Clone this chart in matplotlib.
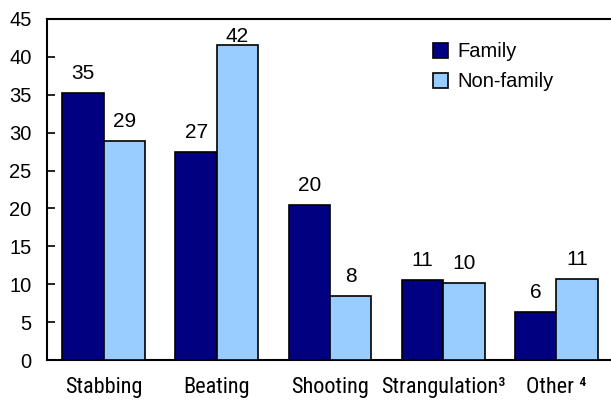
import matplotlib
matplotlib.use("Agg")
import matplotlib.pyplot as plt
import numpy as np
from matplotlib import font_manager

categories = ["Stabbing", "Beating", "Shooting", "Strangulation³", "Other ⁴"]
family = [35.2, 27.4, 20.4, 10.5, 6.3]
non_family = [28.9, 41.6, 8.4, 10.2, 10.7]
family_labels = ["35", "27", "20", "11", "6"]
non_family_labels = ["29", "42", "8", "10", "11"]
yticks = [0, 5, 10, 15, 20, 25, 30, 35, 40, 45]

names = {f.name for f in font_manager.fontManager.ttflist}
narrow = "Liberation Sans"
for cand in ["Liberation Sans Narrow", "Roboto Condensed", "PT Sans Narrow", "Archivo Narrow"]:
    if cand in names:
        narrow = cand
        break

plt.rcParams['font.family'] = ['Liberation Sans', 'DejaVu Sans']

fig = plt.figure(figsize=(6.11, 4.03), dpi=100)
ax = fig.add_axes([47/611, 1 - 360/403, 566/611, 341/403])

x = np.arange(len(categories))
w = 0.365
c_fam = "#000080"
c_non = "#99CCFF"
ax.bar(x - w/2, family, width=w, color=c_fam, edgecolor="black", linewidth=1.2, label="Family", zorder=3)
ax.bar(x + w/2, non_family, width=w, color=c_non, edgecolor="black", linewidth=1.2, label="Non-family", zorder=3)

gap = 1.85
ymax_label = 41.95
for xi, v, t in zip(x, family, family_labels):
    ax.text(xi - w/2, min(v + gap, ymax_label), t, ha="center", va="baseline", fontsize=15)
for xi, v, t in zip(x, non_family, non_family_labels):
    ax.text(xi + w/2, min(v + gap, ymax_label), t, ha="center", va="baseline", fontsize=15)

ax.set_xlim(-0.5, 4.5)
ax.set_ylim(0, 45)
ax.set_yticks(yticks)
ax.tick_params(axis="y", labelsize=14.5, direction="in", length=6, width=1.2, pad=11)
ax.set_xticks(x)
ax.set_xticklabels(categories, fontsize=16, family=[narrow, 'DejaVu Sans'])
ax.tick_params(axis="x", length=0, pad=12.5)

for s in ["left", "bottom", "top"]:
    ax.spines[s].set_linewidth(1.5)
    ax.spines[s].set_color("black")
ax.spines["right"].set_visible(False)

leg = ax.legend(loc="upper left", bbox_to_anchor=(0.65, 0.985), frameon=False, fontsize=14.5,
                handlelength=0.75, handleheight=0.75, handletextpad=0.45, labelspacing=0.55)

fig.savefig("out.png", dpi=100)
